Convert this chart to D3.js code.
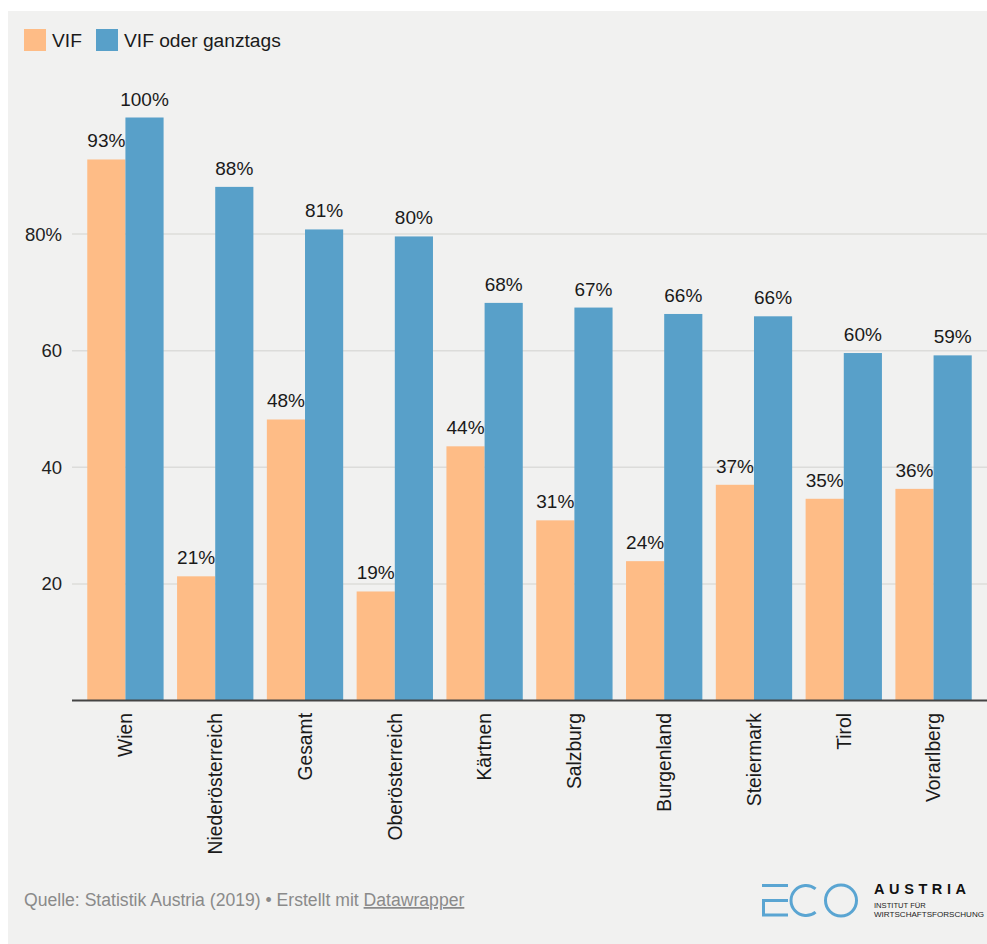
<!DOCTYPE html>
<html>
<head>
<meta charset="utf-8">
<script src="https://cdn.jsdelivr.net/npm/d3@7"></script>
<style>
  html, body { margin: 0; padding: 0; background: #fff; }
  svg { display: block; font-family: "Liberation Sans", Arial, sans-serif; }
</style>
</head>
<body>
<svg id="chart" width="987" height="944"></svg>
<script>
const categories = ["Wien", "Niederösterreich", "Gesamt", "Oberösterreich", "Kärtnen", "Salzburg", "Burgenland", "Steiermark", "Tirol", "Vorarlberg"];
const seriesNames = ["VIF", "VIF oder ganztags"];
const vif = [92.8, 21.3, 48.2, 18.7, 43.6, 30.9, 23.9, 37.0, 34.6, 36.3];
const vifGanztags = [100, 88.1, 80.8, 79.6, 68.2, 67.4, 66.3, 65.9, 59.6, 59.2];
const yTicks = [20, 40, 60, 80];
const yTickLabels = ["20", "40", "60", "80%"];
const colors = ["#febc86", "#58a0c9"];

const svg = d3.select("#chart");

// background panel
svg.append("rect").attr("x", 8).attr("y", 11).attr("width", 979).attr("height", 933).attr("fill", "#f1f1f0");

const x0 = d3.scaleBand().domain(categories).range([72, 987]).paddingInner(0.15).paddingOuter(0.17);
const x1 = d3.scaleBand().domain(seriesNames).range([0, x0.bandwidth()]).padding(0);
const y = d3.scaleLinear().domain([0, 100]).range([700.5, 117.5]);

// gridlines
svg.append("g").selectAll("line").data(yTicks).join("line")
  .attr("x1", 72).attr("x2", 987)
  .attr("y1", d => y(d)).attr("y2", d => y(d))
  .attr("stroke", "#dcdcda").attr("stroke-width", 1.5);

// y tick labels
svg.append("g").selectAll("text").data(yTicks).join("text")
  .attr("x", 62).attr("y", d => y(d)).attr("dy", "0.35em")
  .attr("text-anchor", "end").attr("font-size", 18.5).attr("fill", "#222")
  .text((d, i) => yTickLabels[i]);

const rows = categories.map((c, i) => ({ cat: c, vals: [vif[i], vifGanztags[i]] }));

const groups = svg.append("g").selectAll("g").data(rows).join("g")
  .attr("transform", d => `translate(${x0(d.cat)},0)`);

groups.selectAll("rect").data(d => d.vals.map((v, j) => ({ s: seriesNames[j], v, j }))).join("rect")
  .attr("x", d => x1(d.s)).attr("width", x1.bandwidth())
  .attr("y", d => y(d.v)).attr("height", d => y(0) - y(d.v))
  .attr("fill", d => colors[d.j]);

groups.selectAll("text.val").data(d => d.vals.map((v, j) => ({ s: seriesNames[j], v, j }))).join("text")
  .attr("class", "val")
  .attr("x", d => x1(d.s) + x1.bandwidth() / 2)
  .attr("y", d => y(d.v) - 12)
  .attr("text-anchor", "middle").attr("font-size", 19).attr("fill", "#1a1a1a")
  .text(d => Math.round(d.v) + "%");

// baseline
svg.append("line").attr("x1", 72).attr("x2", 987).attr("y1", y(0)).attr("y2", y(0))
  .attr("stroke", "#444").attr("stroke-width", 2);

// x labels
svg.append("g").selectAll("text").data(categories).join("text")
  .attr("transform", d => `translate(${x0(d) + x0.bandwidth() / 2},713) rotate(-90)`)
  .attr("dy", "0.35em").attr("text-anchor", "end")
  .attr("font-size", 19.3).attr("fill", "#1a1a1a")
  .text(d => d);

// legend
const leg = svg.append("g");
const legX = [24, 96];
seriesNames.forEach((s, i) => {
  leg.append("rect").attr("x", legX[i]).attr("y", 29).attr("width", 22).attr("height", 22).attr("fill", colors[i]);
  leg.append("text").attr("x", legX[i] + 28).attr("y", 47).attr("font-size", 19.2).attr("fill", "#1a1a1a").text(s);
});

// footer
const foot = svg.append("text").attr("x", 24).attr("y", 906).attr("font-size", 17.6).attr("fill", "#8a8a8a");
foot.append("tspan").text("Quelle: Statistik Austria (2019) • Erstellt mit ");
foot.append("tspan").attr("text-decoration", "underline").text("Datawrapper");

// logo
const logo = svg.append("g").attr("fill", "none").attr("stroke", "#5aa5d2").attr("stroke-width", 3);
logo.append("line").attr("x1", 762).attr("x2", 788).attr("y1", 885.5).attr("y2", 885.5);
logo.append("path").attr("d", "M788,900.5 H763.5 V915 H788");
const cx = 806, cy = 900.5, r = 15;
const a0 = -Math.PI * 0.28, a1 = Math.PI * 0.28;
logo.append("path").attr("d",
  `M${cx + r * Math.cos(a0)},${cy + r * Math.sin(a0)} A${r},${r} 0 1 0 ${cx + r * Math.cos(a1)},${cy + r * Math.sin(a1)}`);
logo.append("circle").attr("cx", 841).attr("cy", 900.5).attr("r", 15.5);

svg.append("text").attr("x", 874).attr("y", 894).attr("font-size", 14.5).attr("font-weight", "bold")
  .attr("fill", "#111").attr("letter-spacing", 4.6).text("AUSTRIA");
svg.append("text").attr("x", 874).attr("y", 908).attr("font-size", 7.6).attr("fill", "#222").text("INSTITUT FÜR");
svg.append("text").attr("x", 874).attr("y", 917).attr("font-size", 7.6).attr("fill", "#222")
  .attr("textLength", 110).attr("lengthAdjust", "spacingAndGlyphs").text("WIRTSCHAFTSFORSCHUNG");
</script>
</body>
</html>
